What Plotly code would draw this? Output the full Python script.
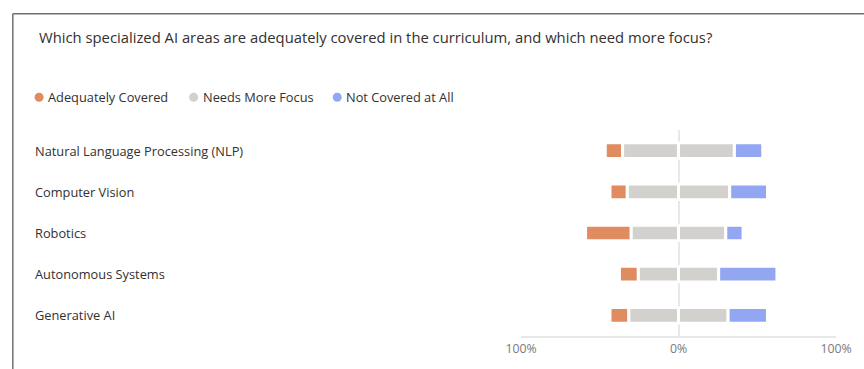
import plotly.graph_objects as go

title_text = "Which specialized AI areas are adequately covered in the curriculum, and which need more focus?"
categories = ["Natural Language Processing (NLP)", "Computer Vision", "Robotics",
              "Autonomous Systems", "Generative AI"]
series_names = ["Adequately Covered", "Needs More Focus", "Not Covered at All"]
adequately_covered = [11, 11, 29, 12, 12]
needs_more_focus = [71, 65, 60, 51, 63]
not_covered = [18, 24, 11, 37, 25]
tick_vals = [-100, 0, 100]
tick_labels = ["100%", "0%", "100%"]

colors = ["#E08B60", "#D3D1CE", "#93A6F1"]
FONT = "Open Sans"

W, H = 864, 369
# plot area in page pixels: x 521..839, y 130..343.5
L, R, T, B = 521, 864 - 839, 130, 25.5
PW, PH = W - L - R, H - T - B


def px_x(x):
    return (x - L) / PW


def px_y(y):
    return 1 - (y - T) / PH


half = [v / 2 for v in needs_more_focus]
neg_half = [-v for v in half]
neg_adequate = [-v for v in adequately_covered]

fig = go.Figure()
bar_kw = dict(orientation="h", width=0.38, marker_line_color="white",
              marker_line_width=3, showlegend=False, hoverinfo="skip")
fig.add_trace(go.Bar(y=categories, x=neg_adequate, base=neg_half,
                     marker_color=colors[0], name=series_names[0], **bar_kw))
fig.add_trace(go.Bar(y=categories, x=neg_half, base=[0] * len(categories),
                     marker_color=colors[1], name=series_names[1], **bar_kw))
fig.add_trace(go.Bar(y=categories, x=half, base=[0] * len(categories),
                     marker_color=colors[1], name=series_names[1], **bar_kw))
fig.add_trace(go.Bar(y=categories, x=not_covered, base=half,
                     marker_color=colors[2], name=series_names[2], **bar_kw))

shapes = []
annotations = []

# card border (left and top)
shapes.append(dict(type="line", xref="paper", yref="paper",
                   x0=px_x(8), x1=px_x(8), y0=px_y(9.5), y1=px_y(400),
                   line=dict(color="#707070", width=1.5)))
shapes.append(dict(type="line", xref="paper", yref="paper",
                   x0=px_x(8), x1=px_x(900), y0=px_y(9.5), y1=px_y(9.5),
                   line=dict(color="#707070", width=1.5)))

# title
annotations.append(dict(text=title_text, xref="paper", yref="paper",
                        x=px_x(32), y=px_y(33.5), xanchor="left", yanchor="middle",
                        showarrow=False,
                        font=dict(family=FONT, size=14.8, color="#323130")))

# legend (custom, circle markers)
legend_marker_x = [34.5, 190.5, 335.5]
legend_text_x = [41.5, 197.5, 342.5]
for name, col, mx, tx in zip(series_names, colors, legend_marker_x, legend_text_x):
    shapes.append(dict(type="circle", xref="paper", yref="paper",
                       xsizemode="pixel", ysizemode="pixel",
                       xanchor=px_x(mx), yanchor=px_y(96),
                       x0=-4.5, x1=4.5, y0=-4.5, y1=4.5,
                       fillcolor=col, line=dict(width=0)))
    annotations.append(dict(text=name, xref="paper", yref="paper",
                            x=px_x(tx), y=px_y(96), xanchor="left", yanchor="middle",
                            showarrow=False,
                            font=dict(family=FONT, size=12.8, color="#323130")))

# category labels
for c in categories:
    annotations.append(dict(text=c, xref="paper", yref="y", x=px_x(28), y=c,
                            xanchor="left", yanchor="middle", showarrow=False,
                            font=dict(family=FONT, size=12.8, color="#323130")))

fig.update_layout(
    width=W, height=H,
    margin=dict(l=L, r=R, t=T, b=B, pad=0),
    paper_bgcolor="white", plot_bgcolor="white",
    barmode="overlay",
    barcornerradius=2,
    shapes=shapes, annotations=annotations,
    font=dict(family=FONT),
    xaxis=dict(range=[-100, 100], tickvals=tick_vals, ticktext=tick_labels,
               showgrid=True, gridcolor="#E8E8E8", gridwidth=1.5,
               zeroline=False, showline=True, linecolor="#E8E8E8", linewidth=1.5,
               ticks="", tickfont=dict(family=FONT, size=12.3, color="#7A7A7A"),
               fixedrange=True),
    yaxis=dict(categoryorder="array", categoryarray=categories,
               range=[4.5, -0.5], showticklabels=False, showgrid=False,
               zeroline=False, showline=False, ticks="", fixedrange=True),
)

fig.write_html(
    "out.html",
    config={"displayModeBar": False},
    post_script="document.documentElement.style.margin='0';"
                "document.body.style.margin='0';"
                "document.body.style.overflow='hidden';",
)
